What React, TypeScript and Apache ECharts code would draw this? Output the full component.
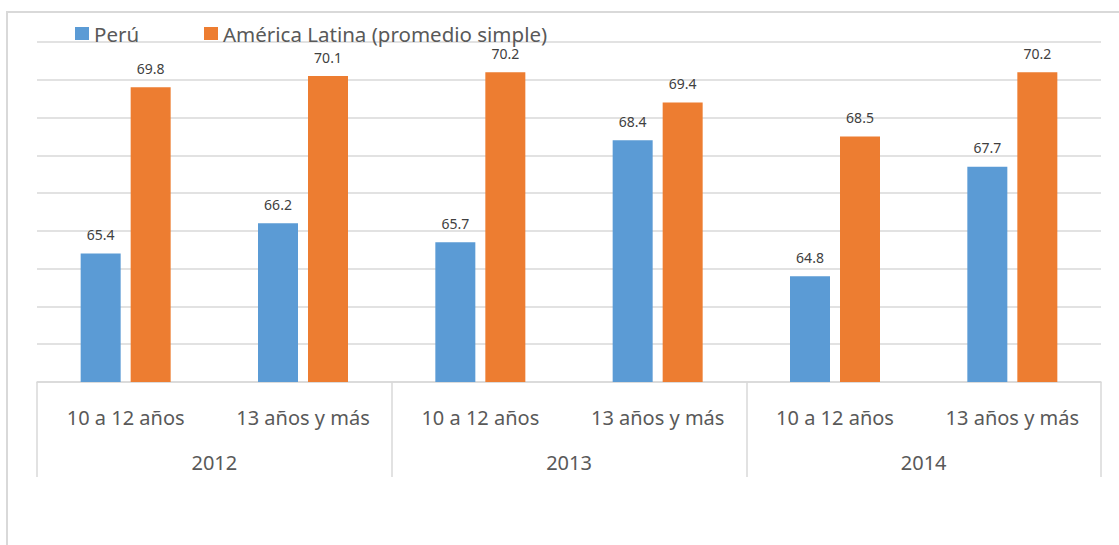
import React, { useEffect, useRef } from "react";
import * as echarts from "echarts";

const ageGroups = ["10 a 12 años", "13 años y más", "10 a 12 años", "13 años y más", "10 a 12 años", "13 años y más"];
const years = ["2012", "2013", "2014"];
const peru = [65.4, 66.2, 65.7, 68.4, 64.8, 67.7];
const latinAmerica = [69.8, 70.1, 70.2, 69.4, 68.5, 70.2];
const seriesNames = ["Perú", "América Latina (promedio simple)"];

const BLUE = "#5B9BD5";
const ORANGE = "#ED7D31";
const GRID = "#D9D9D9";
const TEXT = "#595959";
const FONT = "'Noto Sans', sans-serif";

export default function App() {
  const ref = useRef<HTMLDivElement>(null);

  useEffect(() => {
    if (!ref.current) return;
    const chart = echarts.init(ref.current, null, { renderer: "svg" });

    const barLabel = {
      show: true,
      position: "top",
      distance: 12,
      fontSize: 14,
      lineHeight: 14,
      fontFamily: FONT,
      color: "#404040",
      formatter: (p: any) => Number(p.value).toFixed(1),
    };

    const legendBase = {
      top: 23,
      padding: 0,
      itemWidth: 14,
      itemHeight: 13,
      icon: "rect",
      textStyle: { fontSize: 20.5, fontFamily: FONT, color: TEXT, lineHeight: 20 },
    };

    chart.setOption({
      animation: false,
      backgroundColor: "#ffffff",
      textStyle: { fontFamily: FONT },
      graphic: [
        {
          type: "rect",
          shape: { x: 7, y: 12, width: 1300, height: 700 },
          style: { fill: "none", stroke: GRID, lineWidth: 2 },
          silent: true,
          z: -10,
        },
      ],
      legend: [
        { ...legendBase, left: 75, data: [seriesNames[0]] },
        { ...legendBase, left: 204, data: [seriesNames[1]] },
      ],
      grid: { left: 37, right: 18, top: 42, bottom: 163, containLabel: false },
      xAxis: [
        {
          type: "category",
          data: ageGroups,
          position: "bottom",
          axisLine: { show: true, lineStyle: { color: GRID, width: 1.5 } },
          axisTick: { show: false },
          axisLabel: {
            interval: 0,
            fontSize: 20,
            lineHeight: 20,
            fontFamily: FONT,
            color: TEXT,
            margin: 25,
          },
        },
        {
          type: "category",
          data: years,
          position: "bottom",
          axisLine: { show: false },
          axisTick: {
            show: true,
            interval: 0,
            length: 95,
            lineStyle: { color: GRID, width: 1.5 },
          },
          axisLabel: {
            interval: 0,
            fontSize: 20,
            lineHeight: 20,
            fontFamily: FONT,
            color: TEXT,
            margin: 70,
          },
        },
      ],
      yAxis: {
        type: "value",
        min: 62,
        max: 71,
        interval: 1,
        axisLabel: { show: false },
        axisLine: { show: false },
        axisTick: { show: false },
        splitLine: { show: true, lineStyle: { color: GRID, width: 1.5 } },
      },
      series: [
        {
          name: seriesNames[0],
          type: "bar",
          xAxisIndex: 0,
          data: peru,
          barWidth: 40,
          barGap: "25%",
          itemStyle: { color: BLUE },
          label: barLabel,
        },
        {
          name: seriesNames[1],
          type: "bar",
          xAxisIndex: 0,
          data: latinAmerica,
          barWidth: 40,
          barGap: "25%",
          itemStyle: { color: ORANGE },
          label: barLabel,
        },
      ],
    });

    return () => chart.dispose();
  }, []);

  return (
    <div
      ref={ref}
      style={{ position: "absolute", left: 0, top: 0, width: 1119, height: 545, background: "#fff" }}
    />
  );
}
